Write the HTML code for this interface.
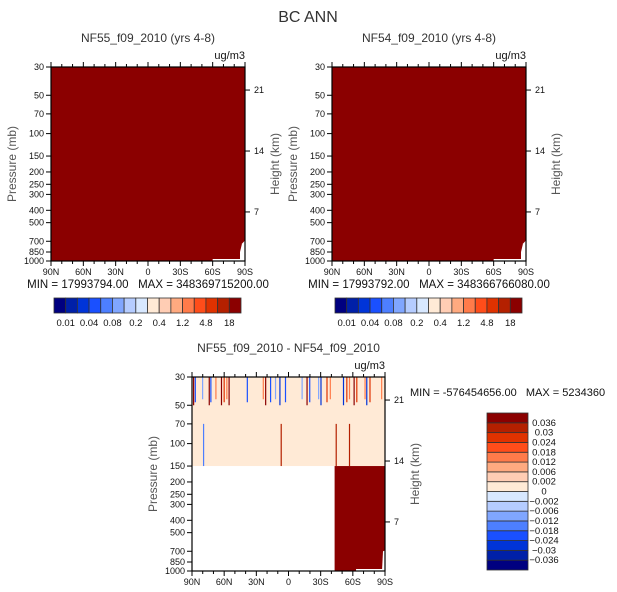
<!DOCTYPE html>
<html><head><meta charset="utf-8"><style>
body{margin:0;background:#fff}
svg{display:block;font-family:"Liberation Sans",sans-serif}
text{fill:#111}
</style></head><body>
<svg id="s" width="617" height="592" viewBox="0 0 617 592" xmlns="http://www.w3.org/2000/svg">
<text x="308" y="22" font-size="16" text-anchor="middle" style="fill:#333">BC ANN</text>
</svg>
<script>
const pressureTicks=[30,50,70,100,150,200,250,300,400,500,700,850,1000];
const heightTicks=[21,14,7];
const heightTickP=[45.5,137,412];
const latTicks=[90,60,30,0,-30,-60,-90];
const latLabels=["90N","60N","30N","0","30S","60S","90S"];
const palette=["#000080","#0020a8","#0034d8","#1a50ff","#4d7fff","#80a6ff","#b5ccff","#d8e8ff","#ffead6","#ffcdb4","#ffaa80","#ff7b4a","#ff4d1a","#e03200","#b42000","#8b0000"];
const absLevels=["0.01","0.04","0.08","0.2","0.4","1.2","4.8","18"];
const diffLevels=["0.036","0.03","0.024","0.018","0.012","0.006","0.002","0","-0.002","-0.006","-0.012","-0.018","-0.024","-0.03","-0.036"];
const topSpikeLat=[88.5,86.9,80.1,73.9,72.4,67.7,62.5,60,57.5,55.4,38.4,23.5,21.3,16.7,12.1,8,2.8,-12.7,-17.3,-19.8,-28.1,-30.3,-35.9,-39,-51.3,-54.4,-56.9,-61.2,-63.7,-71.4,-73,-76,-86.9];
const topSpikeSign=[1,-1,-1,1,-1,1,1,1,1,1,-1,1,1,-1,-1,-1,-1,-1,1,-1,-1,-1,1,1,-1,1,1,1,1,1,-1,1,1];
const midSpikeLat=[79.2,6.8,-44.5,-56.9];
const midSpikeSign=[-1,1,1,1];
const diffBlockLat=-43;
const panels=[
 {x0:51,x1:245,y0:67,y1:261,title:"NF55_f09_2010 (yrs 4-8)",min:"17993794.00",max:"348369715200.00",cb:[54,298,241,313]},
 {x0:332,x1:526,y0:67,y1:261,title:"NF54_f09_2010 (yrs 4-8)",min:"17993792.00",max:"348366766080.00",cb:[335,298,522,313]},
 {x0:192,x1:385,y0:377,y1:571,title:"NF55_f09_2010 - NF54_f09_2010",diff:true}
];
const S=document.getElementById('s');
const NS="http://www.w3.org/2000/svg";
function mk(t,a,parent){const e=document.createElementNS(NS,t);for(const k in a)e.setAttribute(k,a[k]);(parent||S).appendChild(e);return e;}
function txt(x,y,s,size,anchor,extra){const e=mk('text',Object.assign({x:x,y:y,'font-size':size,'text-anchor':anchor||'middle'},extra||{}));e.textContent=s;return e;}
panels.forEach((p,i)=>{
 const g=mk('g',{});
 
 
 const xs=lat=>p.x0+(90-lat)/180*(p.x1-p.x0);
 const ys=pr=>p.y0+Math.log(pr/30)/Math.log(1000/30)*(p.y1-p.y0);
 const cx=(p.x0+p.x1)/2;
 let t=txt(cx,p.y0-25,p.title,12,'middle',{style:"fill:#333"});
 t=txt(p.x1,p.y0-8,"ug/m3",11,'end');
 if(!p.diff){
  let r=mk('rect',{x:p.x0,y:p.y0,width:p.x1-p.x0,height:p.y1-p.y0,fill:palette[15]},g);
  
  mk('rect',{x:xs(-60),y:p.y1-2,width:p.x1-xs(-60),height:2,fill:"#fff"},g);
  mk('polygon',{points:`${p.x1-5},${p.y1} ${p.x1-5},${ys(850)} ${p.x1-3},${ys(730)} ${p.x1},${ys(690)} ${p.x1},${p.y1}`,fill:"#fff"},g);
 } else {
  let r=mk('rect',{x:p.x0,y:p.y0,width:p.x1-p.x0,height:ys(150)-p.y0,fill:palette[8]},g);
  
  r=mk('rect',{x:xs(diffBlockLat),y:ys(150),width:p.x1-xs(diffBlockLat),height:p.y1-ys(150),fill:palette[15]},g);
  
  mk('rect',{x:xs(-63),y:p.y1-2,width:p.x1-xs(-63),height:2,fill:"#fff"},g);
  mk('polygon',{points:`${p.x1-3},${p.y1} ${p.x1-2},${ys(700)} ${p.x1},${ys(690)} ${p.x1},${p.y1}`,fill:"#fff"},g);
  topSpikeLat.forEach((l,k)=>{
   const c=topSpikeSign[k]>0?[15,13,11]:[2,3,5];
   const sp=mk('rect',{x:xs(l)-0.6,y:p.y0,width:1.2,height:ys(50)-p.y0-(k%3)*3,fill:palette[c[k%3]]},g);
   
  });
  midSpikeLat.forEach((l,k)=>{
   const sp=mk('rect',{x:xs(l)-0.6,y:ys(70),width:1.2,height:ys(150)-ys(70),fill:midSpikeSign[k]>0?palette[14]:palette[4]},g);
   
  });
 }
 const fr=mk('rect',{x:p.x0,y:p.y0,width:p.x1-p.x0,height:p.y1-p.y0,fill:"none",stroke:"#000","stroke-width":1.2},g);
 
 pressureTicks.forEach(pr=>{const y=ys(pr);mk('line',{x1:p.x0-5,x2:p.x0,y1:y,y2:y,stroke:"#000"},g);
  const tt=txt(p.x0-7,y+3,String(pr),9,'end');});
 heightTicks.forEach((h,k)=>{const y=ys(heightTickP[k]);mk('line',{x1:p.x1,x2:p.x1+5,y1:y,y2:y,stroke:"#000"},g);
  const tt=txt(p.x1+9,y+3,String(h),9,'start');});
 for(let l=90;l>=-90;l-=10){const x=xs(l);const major=l%30===0;
  mk('line',{x1:x,x2:x,y1:p.y0,y2:p.y0-(major?5:3),stroke:"#000"},g);
  mk('line',{x1:x,x2:x,y1:p.y1,y2:p.y1+(major?5:3),stroke:"#000"},g);}
 latTicks.forEach((l,k)=>{const tt=txt(xs(l),p.y1+14,latLabels[k],9);});
 t=txt(0,0,"Pressure (mb)",12,'middle',{transform:`translate(${p.x0-35},${(p.y0+p.y1)/2}) rotate(-90)`,style:"fill:#555"});
 
 t=txt(0,0,"Height (km)",12,'middle',{transform:`translate(${p.x1+34},${(p.y0+p.y1)/2}) rotate(-90)`,style:"fill:#555"});
 
 if(!p.diff){
  t=txt(cx,p.y1+27,"MIN = "+p.min+"\u00a0\u00a0\u00a0MAX = "+p.max,11.5);
  const [a,b,c,d]=p.cb;const w=(c-a)/16;
  palette.forEach((col,k)=>{const bx=mk('rect',{x:a+k*w,y:b,width:w,height:d-b,fill:col,stroke:"#333","stroke-width":0.8});
   });
  absLevels.forEach((s,k)=>{const tt=txt(a+(2*k+1)*w,d+13,s,9.5);});
 } else {
  t=txt(410,396,"MIN = -576454656.00\u00a0\u00a0\u00a0MAX = 5234360",11,'start');
  const a=487,b=413,c=528,d=570;const h=(d-b)/16;
  palette.forEach((col,k)=>{const bx=mk('rect',{x:a,y:d-(k+1)*h,width:c-a,height:h,fill:col,stroke:"#333","stroke-width":0.8});
   });
  diffLevels.forEach((s,k)=>{const tt=txt(544,b+(k+1)*h+3,s.replace('-','\u2212'),9.5);});
 }
});
</script>
</body></html>
